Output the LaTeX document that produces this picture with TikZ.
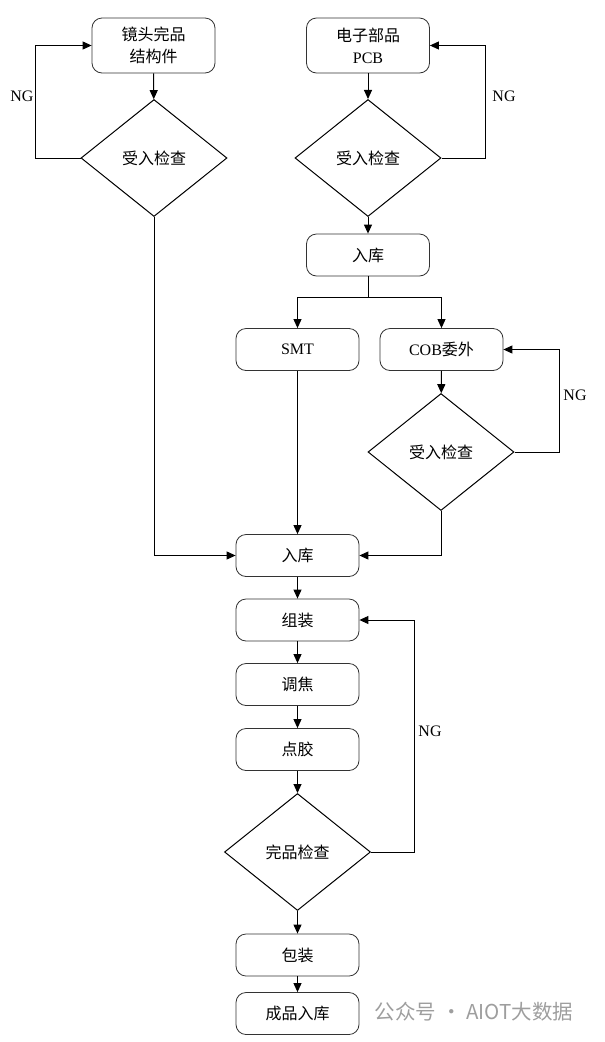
\documentclass[tikz,border=0pt]{standalone}
\usepackage{fontspec}
\setmainfont{Liberation Serif}
\newfontfamily\cjk{Noto Sans CJK SC}
\usetikzlibrary{positioning, shapes.geometric, arrows.meta}
\tikzset{
proc/.style={draw=black!80, line width=0.8pt, rounded corners=10pt, minimum width=123pt, minimum height=42pt, align=center, font=\fontsize{16}{22}\selectfont},
check/.style={draw, diamond, line width=1pt, inner sep=0pt, aspect=1.26, minimum width=146pt, minimum height=117pt, font=\fontsize{16}{22}\selectfont},
flow/.style={line width=1pt, -{Triangle[length=9pt,width=8pt]}},
link/.style={line width=1pt},
ng/.style={font=\fontsize{16}{18}\selectfont},
}

\begin{document}
\begin{tikzpicture}[x=1pt, y=-1pt]
    \useasboundingbox (0,0) rectangle (605,1042);

    %incoming parts
    \node[proc, minimum height=55pt] (lens) at (153.5,45.5) {\cjk 镜头完品\\\cjk 结构件};
    \node[check]  (chk1) at (154,158)   {\cjk 受入检查};
    \node[proc, minimum height=55pt] (pcb) at (368,45.5) {\cjk 电子部品\\PCB};
    \node[check]  (chk2) at (368,158)   {\cjk 受入检查};
    \node[proc]  (stock1) at (368,255)  {\cjk 入库};

    %smt and cob
    \coordinate (split) at (368,297);
    \node[proc]     (smt) at (297.5,349.5) {SMT};
    \node[proc]     (cob) at (441.5,349.5) {COB{\cjk 委外}};
    \node[check]   (chk3) at (441,452)     {\cjk 受入检查};

    %assembly line
    \node[proc]  (stock2) at (297.5,555.5) {\cjk 入库};
    \node[proc]    (assy) at (297.5,620)   {\cjk 组装};
    \node[proc]   (focus) at (297.5,684.5) {\cjk 调焦};
    \node[proc]    (glue) at (297.5,749.5) {\cjk 点胶};
    \node[check]  (final) at (297.5,852)   {\cjk 完品检查};
    \node[proc]    (pack) at (297.5,955)   {\cjk 包装};
    \node[proc]   (store) at (297.5,1013.5) {\cjk 成品入库};

    %NG labels
    \node[ng] (ng1) at (22,96)  {NG};
    \node[ng] (ng2) at (504,96) {NG};
    \node[ng] (ng3) at (575,395) {NG};
    \node[ng] (ng4) at (430,731) {NG};

    %watermark
    \node[text=black!38, font=\cjk\fontsize{20.5}{24}\selectfont] (mark) at (474,1012) {公众号 · AIOT大数据};

    %left column
    \draw[flow] (lens) -- (chk1);
    \draw[flow] (chk1.west) -- ++(-45,0) |- (lens.west);
    \draw[flow] (chk1.south) |- (stock2.west);

    %right column
    \draw[flow] (pcb) -- (chk2);
    \draw[flow] (chk2.east) -- ++(44,0) |- (pcb.east);
    \draw[flow] (chk2) -- (stock1);
    \draw[link] (stock1) -- (split);
    \draw[flow] (split) -| (smt);
    \draw[flow] (split) -| (cob);
    \draw[flow] (cob) -- (chk3);
    \draw[flow] (chk3.east) -- ++(45,0) |- (cob.east);
    \draw[flow] (chk3.south) |- (stock2.east);
    \draw[flow] (smt) -- (stock2);

    %bottom line
    \draw[flow] (stock2) -- (assy);
    \draw[flow] (assy) -- (focus);
    \draw[flow] (focus) -- (glue);
    \draw[flow] (glue) -- (final);
    \draw[flow] (final.east) -- ++(43,0) |- (assy.east);
    \draw[flow] (final) -- (pack);
    \draw[flow] (pack) -- (store);

\end{tikzpicture}
\end{document}
